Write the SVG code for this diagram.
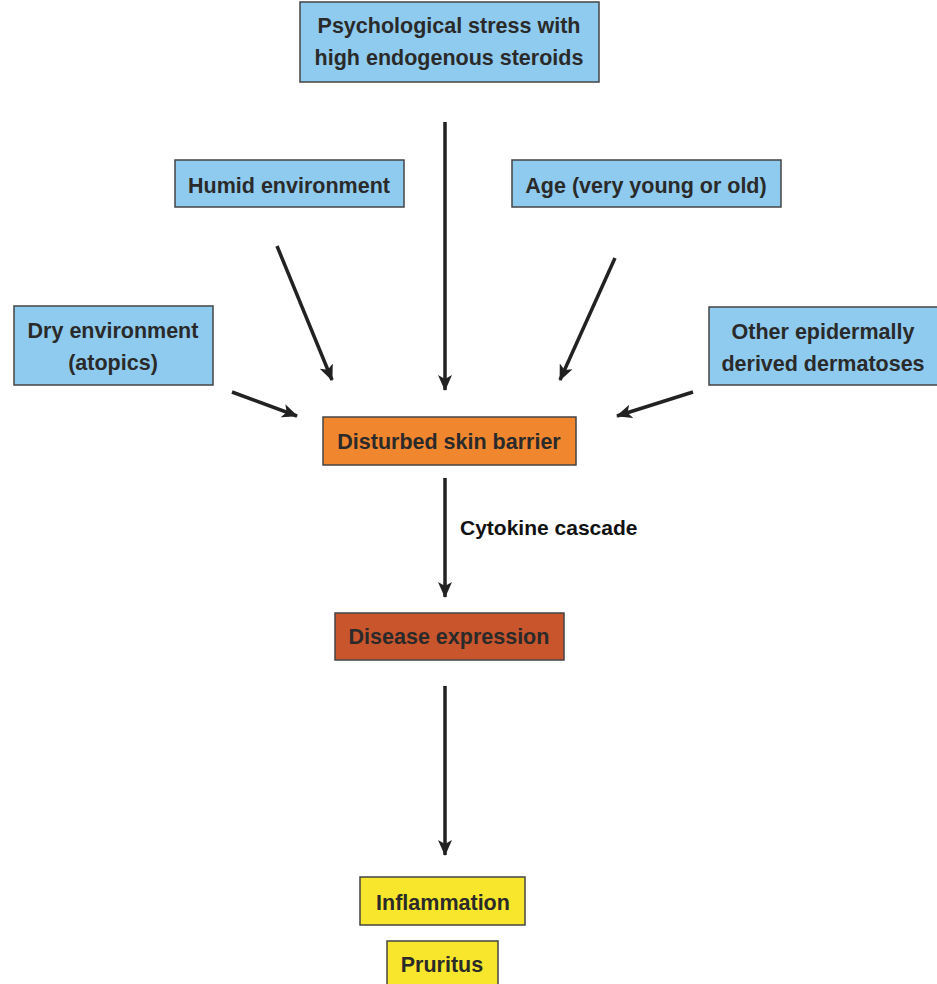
<svg xmlns="http://www.w3.org/2000/svg" width="937" height="984" viewBox="0 0 937 984">
<defs>
<marker id="ah" viewBox="0 0 16 14" refX="15" refY="7" markerWidth="16" markerHeight="14" markerUnits="userSpaceOnUse" orient="auto">
<path d="M0,0 L16,7 L0,14 L4,7 z" fill="#222"/>
</marker>
<style>
.box{stroke:#444;stroke-width:1.5}
.blue{fill:#8fcbee}
.orange{fill:#f0862e}
.red{fill:#c9552c}
.yellow{fill:#f7e62b}
text{font-family:"Liberation Sans",Arial,sans-serif;font-weight:bold;font-size:21.5px;fill:#2a2a2a;text-anchor:middle}
.conn line{stroke:#222;stroke-width:3.5;marker-end:url(#ah)}
</style>
</defs>
<rect width="937" height="984" fill="#fff"/>
<g id="psych"><rect class="box blue" x="300" y="2" width="299" height="80"/><text x="449" y="33">Psychological stress with</text><text x="449" y="65">high endogenous steroids</text></g>
<g id="humid"><rect class="box blue" x="175" y="160" width="229" height="47"/><text x="289" y="193">Humid environment</text></g>
<g id="age"><rect class="box blue" x="512" y="160" width="269" height="47"/><text x="646" y="193">Age (very young or old)</text></g>
<g id="dry"><rect class="box blue" x="14" y="306" width="199" height="79"/><text x="113" y="338">Dry environment</text><text x="113" y="370">(atopics)</text></g>
<g id="other"><rect class="box blue" x="709" y="307" width="230" height="78"/><text x="823" y="339">Other epidermally</text><text x="823" y="371">derived dermatoses</text></g>
<g id="barrier"><rect class="box orange" x="323" y="417" width="253" height="48"/><text x="449" y="449">Disturbed skin barrier</text></g>
<g id="disease"><rect class="box red" x="335" y="613" width="229" height="47"/><text x="449" y="644">Disease expression</text></g>
<g id="inflammation"><rect class="box yellow" x="360" y="877" width="165" height="48"/><text x="443" y="910">Inflammation</text></g>
<g id="pruritus"><rect class="box yellow" x="387" y="941" width="111" height="50"/><text x="442" y="972">Pruritus</text></g>
<g id="label"><text x="460" y="535" style="text-anchor:start;fill:#111;font-size:21px">Cytokine cascade</text></g>
<g class="conn" id="connectors">
<line x1="445" y1="122" x2="445" y2="390"/>
<line x1="277" y1="246" x2="332" y2="380"/>
<line x1="615" y1="258" x2="560" y2="380"/>
<line x1="232" y1="392" x2="297" y2="416"/>
<line x1="693" y1="392" x2="617" y2="416"/>
<line x1="445" y1="478" x2="445" y2="597"/>
<line x1="445" y1="686" x2="445" y2="855"/>
</g>
</svg>
